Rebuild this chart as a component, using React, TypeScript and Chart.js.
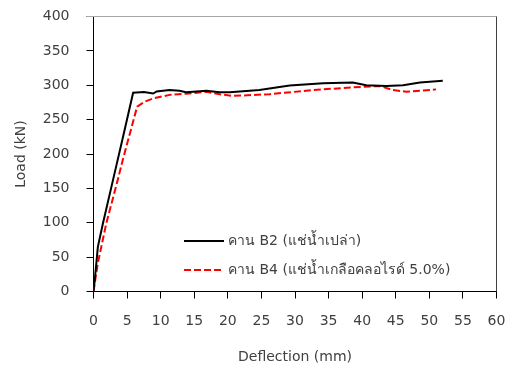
import React, { useEffect, useRef } from "react";
import { Chart, registerables } from "chart.js";

Chart.register(...registerables);

const xTicks = [0, 5, 10, 15, 20, 25, 30, 35, 40, 45, 50, 55, 60];
const yTicks = [0, 50, 100, 150, 200, 250, 300, 350, 400];

const b2Label = "คาน B2 (แช่น้ำเปล่า)";
const b2Deflection = [0, 0.2, 0.65, 1.4, 2.9, 4.4, 5.9, 7.5, 8.9, 9.4, 11.3, 12.8, 13.8, 16.8, 18.8, 20.3, 24.7, 29.2, 34.2, 38.6, 40.6, 43.6, 46.1, 48.6, 52.0];
const b2Load = [0, 18, 65, 99, 162, 225, 289, 290, 288, 291, 293, 292, 290, 292, 290, 290, 293, 299.5, 303, 304, 300, 299, 300, 304, 306.5];

const b4Label = "คาน B4 (แช่น้ำเกลือคลอไรด์ 5.0%)";
const b4Deflection = [0, 0.64, 1.9, 3.6, 4.4, 6.5, 7.6, 8.9, 11.35, 14.3, 16.8, 18.8, 20.8, 26.2, 32.7, 38.6, 42.6, 44.6, 46.6, 48.6, 51.0];
const b4Load = [0, 41, 99, 162, 193, 269, 276, 281, 286, 288, 290.6, 286.8, 284.5, 287, 293, 297, 299, 293, 290.6, 292, 294];

const FONT = "'DejaVu Sans', 'Noto Sans', sans-serif";
const TEXT = "#404040";

const frameAndLegend = {
  id: "frameAndLegend",
  afterDraw(chart: any) {
    const { ctx, chartArea } = chart;
    const { left, right, top, bottom } = chartArea;
    ctx.save();
    ctx.lineWidth = 1;
    ctx.strokeStyle = "#a6a6a6";
    ctx.beginPath();
    ctx.moveTo(left - 7, top);
    ctx.lineTo(right, top);
    ctx.stroke();
    ctx.strokeStyle = "#404040";
    ctx.beginPath();
    ctx.moveTo(right, top);
    ctx.lineTo(right, bottom);
    ctx.stroke();

    const items = chart.data.datasets;
    const lx = 184;
    const ys = [241, 270];
    ctx.font = `14px ${FONT}`;
    ctx.textBaseline = "middle";
    ctx.textAlign = "left";
    items.forEach((ds: any, i: number) => {
      const y = ys[i];
      ctx.strokeStyle = ds.borderColor;
      ctx.lineWidth = 2;
      ctx.setLineDash(ds.borderDash || []);
      ctx.beginPath();
      ctx.moveTo(lx, y);
      ctx.lineTo(lx + 40, y);
      ctx.stroke();
      ctx.setLineDash([]);
      ctx.fillStyle = TEXT;
      ctx.fillText(ds.label, lx + 44, y);
    });
    ctx.restore();
  },
};

export default function App() {
  const ref = useRef<HTMLCanvasElement>(null);
  useEffect(() => {
    document.body.style.margin = "0";
    const canvas = ref.current!;
    const chart = new Chart(canvas, {
      type: "line",
      data: {
        datasets: [
          {
            label: b2Label,
            data: b2Deflection.map((x, i) => ({ x, y: b2Load[i] })),
            borderColor: "#000000",
            borderWidth: 2,
            pointRadius: 0,
            tension: 0,
            fill: false,
          },
          {
            label: b4Label,
            data: b4Deflection.map((x, i) => ({ x, y: b4Load[i] })),
            borderColor: "#ff0000",
            borderWidth: 2,
            borderDash: [7, 3],
            pointRadius: 0,
            tension: 0,
            fill: false,
          },
        ],
      },
      options: {
        animation: false,
        responsive: false,
        maintainAspectRatio: false,
        layout: { padding: { left: 0, top: 16.5, right: 16.5, bottom: 0 } },
        plugins: { legend: { display: false }, tooltip: { enabled: false } },
        scales: {
          x: {
            type: "linear",
            min: 0,
            max: 60,
            afterBuildTicks: (s: any) => {
              s.ticks = xTicks.map((v) => ({ value: v }));
            },
            afterFit: (s: any) => {
              s.height = 79.5;
              s.paddingLeft = 0;
              s.paddingRight = 0;
            },
            ticks: { color: TEXT, font: { family: FONT, size: 14 }, padding: 14, maxRotation: 0 },
            grid: { display: true, drawOnChartArea: false, drawTicks: true, tickLength: 7, color: "#000" },
            border: { display: true, color: "#000", width: 1 },
            title: { display: true, text: "Deflection (mm)", color: TEXT, font: { family: FONT, size: 14 }, padding: { top: 0, bottom: 5 } },
          },
          y: {
            type: "linear",
            min: 0,
            max: 400,
            afterBuildTicks: (s: any) => {
              s.ticks = yTicks.map((v) => ({ value: v }));
            },
            afterFit: (s: any) => {
              s.width = 93.5;
              s.paddingTop = 0;
              s.paddingBottom = 0;
            },
            ticks: { color: TEXT, font: { family: FONT, size: 14 }, padding: 17 },
            grid: { display: true, drawOnChartArea: false, drawTicks: true, tickLength: 7, color: "#000" },
            border: { display: true, color: "#000", width: 1 },
            title: { display: true, text: "Load (kN)", color: TEXT, font: { family: FONT, size: 14 }, padding: { top: 13, bottom: 0 } },
          },
        },
      },
      plugins: [frameAndLegend],
    });
    return () => chart.destroy();
  }, []);
  return (
    <div style={{ width: 513, height: 371, background: "#fff" }}>
      <canvas ref={ref} width={513} height={371} style={{ display: "block" }} />
    </div>
  );
}
